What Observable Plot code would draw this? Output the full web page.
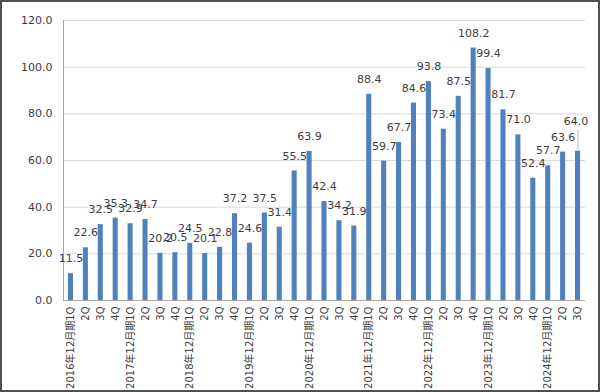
<!DOCTYPE html>
<html>
<head>
<meta charset="utf-8">
<script src="https://cdn.jsdelivr.net/npm/d3@7"></script>
<script src="https://cdn.jsdelivr.net/npm/@observablehq/plot@0.6"></script>
<style>
  html, body { margin: 0; padding: 0; background: #fff; }
  #chart svg { display: block; outline: 2px solid #505050; outline-offset: -2px; }
</style>
</head>
<body>
<div id="chart"></div>
<script>
const years = [2016, 2017, 2018, 2019, 2020, 2021, 2022, 2023, 2024];
const quarters = ["1Q", "2Q", "3Q", "4Q"];
const values = [
  11.5, 22.6, 32.5, 35.3,
  32.9, 34.7, 20.2, 20.5,
  24.5, 20.1, 22.8, 37.2,
  24.6, 37.5, 31.4, 55.5,
  63.9, 42.4, 34.2, 31.9,
  88.4, 59.7, 67.7, 84.6,
  93.8, 73.4, 87.5, 108.2,
  99.4, 81.7, 71.0, 52.4,
  57.7, 63.6, 64.0
];
const yTicks = [0, 20, 40, 60, 80, 100, 120];

const labels = values.map((v, i) => {
  const y = years[Math.floor(i / 4)];
  const q = quarters[i % 4];
  return q === "1Q" ? `${y}年12月期1Q` : q;
});
const data = values.map((v, i) => ({key: String(i), value: v, label: labels[i]}));
const main = data.slice(0, -1);
const last = data.slice(-1);
const fmt = d3.format(".1f");
const font = "'DejaVu Sans', 'Noto Sans CJK JP', sans-serif";

const chart = Plot.plot({
  width: 600,
  height: 392,
  marginLeft: 63,
  marginRight: 15,
  marginTop: 20,
  marginBottom: 92,
  style: {fontFamily: font, background: "#fff"},
  x: {domain: data.map(d => d.key), paddingInner: 0.66, paddingOuter: 0.33, label: null},
  y: {domain: [0, 120], label: null},
  marks: [
    Plot.gridY(yTicks, {stroke: "#d9d9d9", strokeOpacity: 1}),
    Plot.barY(data, {x: "key", y: "value", fill: "#4f81bd"}),
    Plot.ruleY([0], {stroke: "#a6a6a6"}),
    Plot.frame({anchor: "left", stroke: "#a6a6a6"}),
    Plot.text(main, {x: "key", y: "value", text: d => fmt(d.value), dy: -15, fontSize: 11, fill: "#404040"}),
    Plot.ruleX(last, {x: "key", y1: "value", y2: "value", insetTop: -21, insetBottom: 1, stroke: "#a6a6a6", strokeWidth: 0.8}),
    Plot.text(last, {x: "key", y: "value", text: d => fmt(d.value), dy: -30, dx: -2, fontSize: 11, fill: "#404040"}),
    Plot.axisY({ticks: yTicks, tickFormat: fmt, tickSize: 0, tickPadding: 11, fontSize: 11, fill: "#404040", label: null}),
    Plot.axisX({tickFormat: k => labels[+k], tickRotate: -90, textAnchor: "end", tickSize: 0, tickPadding: 6, fontSize: 10, fill: "#404040", label: null})
  ]
});
document.getElementById("chart").appendChild(chart);
</script>
</body>
</html>
